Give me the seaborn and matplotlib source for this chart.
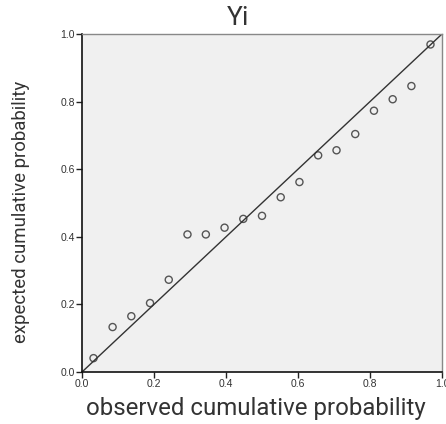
import matplotlib
matplotlib.use("Agg")
import matplotlib.pyplot as plt
import seaborn as sns
import pandas as pd

# Observed vs expected cumulative probabilities for Yi (P-P plot, n = 19)
observed = [0.032, 0.085, 0.137, 0.189, 0.241, 0.293, 0.344, 0.396, 0.448, 0.500,
            0.552, 0.604, 0.656, 0.707, 0.759, 0.811, 0.863, 0.915, 0.968]
expected = [0.041, 0.133, 0.165, 0.204, 0.273, 0.407, 0.407, 0.427, 0.453, 0.462,
            0.517, 0.562, 0.641, 0.656, 0.704, 0.773, 0.807, 0.846, 0.969]
ref_line = [0.0, 1.0]
ticks = [0.0, 0.2, 0.4, 0.6, 0.8, 1.0]
tick_labels = ["0.0", "0.2", "0.4", "0.6", "0.8", "1.0"]

df = pd.DataFrame({"observed": observed, "expected": expected})
line_df = pd.DataFrame({"x": ref_line, "y": ref_line})

sns.set_style("white")
plt.rcParams["font.family"] = ["Roboto", "DejaVu Sans"]

fig = plt.figure(figsize=(4.46, 4.24), dpi=100)
ax = fig.add_axes([82 / 446, 1 - 372 / 424, 360 / 446, 338 / 424])
ax.set_facecolor("#f0f0f0")

sns.lineplot(data=line_df, x="x", y="y", ax=ax, color="#333333", linewidth=1.0)
sns.scatterplot(data=df, x="observed", y="expected", ax=ax, marker="o",
                s=26, facecolor="none", edgecolor="#555555", linewidth=1.0)

ax.set_xlim(0, 1)
ax.set_ylim(0, 1)
ax.set_xticks(ticks)
ax.set_yticks(ticks)
ax.set_xticklabels(tick_labels, fontfamily="Liberation Sans", fontsize=7.5, color="#333333")
ax.set_yticklabels(tick_labels, fontfamily="Liberation Sans", fontsize=7.5, color="#333333")
ax.tick_params(axis="both", which="both", direction="out", length=4, width=1,
               color="#222222", pad=1, left=True, bottom=True)

for side in ["left", "bottom"]:
    ax.spines[side].set_color("#111111")
    ax.spines[side].set_linewidth(1.2)
for side in ["top", "right"]:
    ax.spines[side].set_color("#888888")
    ax.spines[side].set_linewidth(1.0)

ax.set_xlabel("")
ax.set_ylabel("")
fig.text(256 / 446, 1 - 408 / 424, "observed cumulative probability",
         ha="center", va="center", fontsize=17.3, color="#333333")
fig.text(21 / 446, 1 - 212 / 424, "expected cumulative probability",
         ha="center", va="center", rotation=90, fontsize=13.4, color="#333333")
fig.text(238.5 / 446, 1 - 18 / 424, "Yi", ha="center", va="center",
         fontsize=19, color="#333333")

fig.savefig("out.png", dpi=100)
